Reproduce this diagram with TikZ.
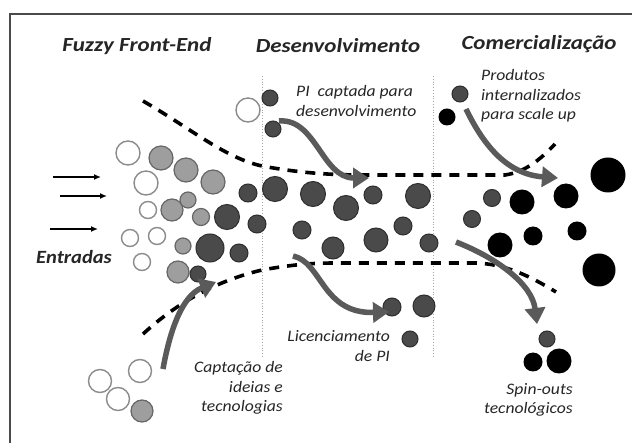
\documentclass[tikz,border=0pt]{standalone}
\usepackage{fontspec}
\setmainfont{Carlito}
\newfontfamily\lblfont[FakeStretch=1.1]{Carlito}
\newfontfamily\ttlfont[FakeStretch=1.15]{Carlito}
\usetikzlibrary{arrows.meta}
\definecolor{wring}{HTML}{8C8C8C}
\definecolor{gfill}{HTML}{9E9E9E}
\definecolor{gring}{HTML}{666666}
\definecolor{dfill}{HTML}{4A4A4A}
\definecolor{dring}{HTML}{2E2E2E}
\definecolor{arrg}{HTML}{5A5A5A}
\definecolor{txt}{HTML}{262626}
\definecolor{frame}{HTML}{4A4A4A}
\begin{document}
\begin{tikzpicture}[x=1pt,y=-1pt,
  wc/.style={circle,draw=wring,line width=1.4pt,fill=white,minimum size=#1,inner sep=0pt},
  gc/.style={circle,draw=gring,line width=1.2pt,fill=gfill,minimum size=#1,inner sep=0pt},
  dc/.style={circle,draw=dring,line width=1pt,fill=dfill,minimum size=#1,inner sep=0pt},
  bc/.style={circle,fill=black,minimum size=#1,inner sep=0pt},
  garrow/.style={draw=arrg,line width=5.5pt,-{Triangle[width=20pt,length=16pt]}},
  inarrow/.style={draw=black,line width=1.8pt,-{Latex[length=7pt,width=6pt]}},
  dline/.style={draw=black,line width=3.6pt,dash pattern=on 10pt off 8pt},
  vdot/.style={draw=gray!70,line width=0.8pt,dotted},
  title/.style={font=\ttlfont\fontsize{20}{23}\selectfont\bfseries\itshape,text=txt,inner sep=0pt},
  lbl/.style={font=\lblfont\fontsize{16}{19.5}\selectfont\itshape,text=txt,inner sep=0pt},
]
\useasboundingbox (0,0) rectangle (632,443);
\fill[white] (0,0) rectangle (632,443);
% frame
\draw[frame,line width=1.3pt] (10,443) -- (10,14) -- (632,14);
% dotted separators
\coordinate (v1t) at (262,76); \coordinate (v1b) at (262,357);
\coordinate (v2t) at (433,76); \coordinate (v2b) at (433,357);
\draw[vdot] (v1t) -- (v1b);
\draw[vdot] (v2t) -- (v2b);
% titles
\node[title] (t1) at (137,46) {Fuzzy Front-End};
\node[title] (t2) at (338,46) {Desenvolvimento};
\node[title] (t3) at (539,44) {Comercialização};
% dashed funnel
\coordinate (du0) at (143,101);
\coordinate (du1) at (262,166);
\coordinate (du2) at (365,175);
\coordinate (du3) at (505,175);
\coordinate (du4) at (555,144);
\draw[dline] (du0) .. controls (190,128) and (225,158) .. (du1) .. controls (300,173) and (330,175) .. (du2) -- (du3) .. controls (525,172) and (540,160) .. (du4);
\coordinate (dl0) at (143,334);
\coordinate (dl1) at (262,270);
\coordinate (dl2) at (335,263);
\coordinate (dl3) at (476,263);
\coordinate (dl4) at (556,292);
\draw[dline] (dl0) .. controls (180,300) and (220,280) .. (dl1) .. controls (290,265) and (310,263) .. (dl2) -- (dl3) .. controls (505,264) and (530,276) .. (dl4);
% input arrows
\coordinate (i1a) at (53,177); \coordinate (i1b) at (101,177);
\coordinate (i2a) at (60,196); \coordinate (i2b) at (107,196);
\coordinate (i3a) at (50,229); \coordinate (i3b) at (98,229);
\draw[inarrow] (i1a) -- (i1b);
\draw[inarrow] (i2a) -- (i2b);
\draw[inarrow] (i3a) -- (i3b);
\node[font=\lblfont\fontsize{18.7}{22}\selectfont\bfseries\itshape,text=txt,inner sep=0pt] (ent) at (74,257) {Entradas};
% fuzzy front end circles
\node[wc=24] (w1) at (128,153) {};
\node[gc=24] (g1) at (161,158) {};
\node[gc=24] (g2) at (186,170) {};
\node[gc=24] (g3) at (213,182) {};
\node[wc=24] (w2) at (146,183) {};
\node[wc=17] (w3) at (148,210) {};
\node[gc=22] (g4) at (172,210) {};
\node[gc=16] (g5) at (188,200) {};
\node[gc=17] (g6) at (201,217) {};
\node[wc=17] (w4) at (130,238) {};
\node[wc=17] (w5) at (157,236) {};
\node[gc=16] (g7) at (183,246) {};
\node[wc=17] (w6) at (142,262) {};
\node[gc=22] (g8) at (178,272) {};
\node[dc=16] (d1) at (198,274) {};
\node[dc=25] (d2) at (227,217) {};
\node[dc=28] (d3) at (210,248) {};
\node[dc=18] (d4) at (239,253) {};
\node[dc=18] (d5) at (248,193) {};
\node[dc=18] (d6) at (257,224) {};
% top incoming
\node[wc=24] (w7) at (248,110) {};
\node[dc=16] (d7) at (270,98) {};
\node[dc=16] (d8) at (273,129) {};
% development circles
\node[dc=25] (d9) at (275,189) {};
\node[dc=25] (d10) at (313,194) {};
\node[dc=25] (d11) at (346,208) {};
\node[dc=18] (d12) at (373,195) {};
\node[dc=25] (d13) at (418,196) {};
\node[dc=18] (d14) at (302,230) {};
\node[dc=22] (d15) at (333,248) {};
\node[dc=24] (d16) at (376,240) {};
\node[dc=18] (d17) at (403,226) {};
\node[dc=18] (d18) at (429,243) {};
% licensing
\node[dc=18] (d19) at (392,307) {};
\node[dc=22] (d20) at (424,306) {};
\node[dc=16] (d21) at (410,339) {};
% commercialisation
\node[dc=16] (d22) at (460,94) {};
\node[bc=17] (b1) at (447,117) {};
\node[dc=17] (d23) at (492,198) {};
\node[dc=17] (d24) at (472,219) {};
\node[bc=25] (b2) at (522,202) {};
\node[bc=25] (b3) at (566,196) {};
\node[bc=35] (b4) at (608,175) {};
\node[bc=19] (b5) at (533,236) {};
\node[bc=19] (b6) at (577,231) {};
\node[bc=25] (b7) at (500,245) {};
\node[bc=33] (b8) at (599,270) {};
% spin-outs
\node[dc=16] (d25) at (547,339) {};
\node[bc=19] (b9) at (533,362) {};
\node[bc=25] (b10) at (559,361) {};
% captação bottom-left circles
\node[wc=23] (w8) at (140,371) {};
\node[wc=23] (w9) at (100,381) {};
\node[wc=23] (w10) at (118,399) {};
\node[gc=22] (g9) at (142,411) {};
% gray arrows
\coordinate (a1s) at (279,121); \coordinate (a1e) at (369,178);
\draw[garrow] (a1s) .. controls (316,118) and (322,178) .. (a1e);
\coordinate (a2s) at (466,109); \coordinate (a2e) at (558,178);
\draw[garrow] (a2s) .. controls (482,142) and (505,174) .. (a2e);
\coordinate (a3s) at (293,256); \coordinate (a3e) at (389,312);
\draw[garrow] (a3s) .. controls (322,262) and (322,314) .. (a3e);
\coordinate (a4s) at (456,242); \coordinate (a4e) at (537,324);
\draw[garrow] (a4s) .. controls (497,258) and (532,284) .. (a4e);
\coordinate (a5s) at (163,369); \coordinate (a5e) at (216,282);
\draw[garrow] (a5s) .. controls (170,330) and (182,296) .. (a5e);
% labels
\node[lbl,anchor=west,align=left] (lpi) at (296,101) {PI\ \ captada para\\desenvolvimento};
\node[lbl,anchor=west,align=left] (lprod) at (481,96) {Produtos\\internalizados\\para scale up};
\node[lbl,anchor=east,align=right] (llic) at (390,346) {Licenciamento\\de PI};
\node[lbl,anchor=east,align=right] (lcap) at (283,388) {Captação de\\ideias e\\tecnologias};
\node[lbl,anchor=east,align=right] (lspin) at (573,400) {Spin-outs\\tecnológicos};
\end{tikzpicture}
\end{document}
